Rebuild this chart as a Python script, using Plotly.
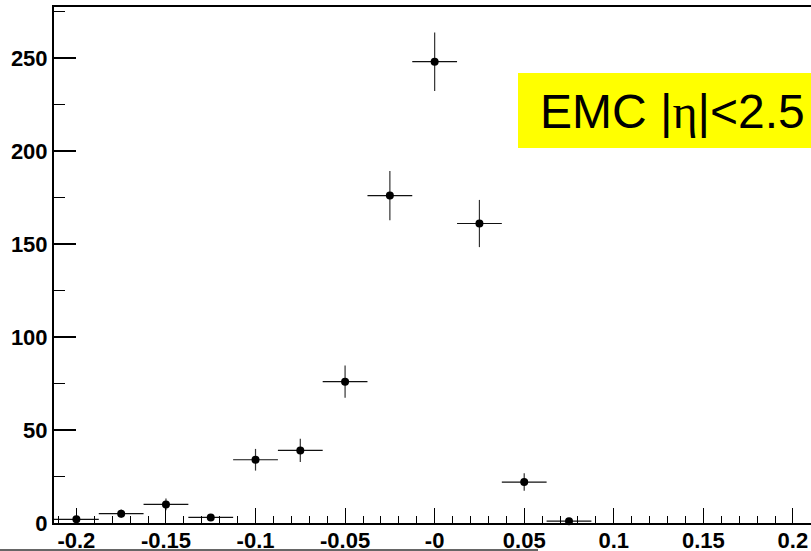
import plotly.graph_objects as go

# Data
bin_centers = [-0.2, -0.175, -0.15, -0.125, -0.1, -0.075, -0.05, -0.025, 0.0, 0.025, 0.05, 0.075]
counts = [2, 5, 10, 3, 34, 39, 76, 176, 248, 161, 22, 1]
bin_half_width = 0.0125
x_tick_vals = [-0.2, -0.15, -0.1, -0.05, 0.0, 0.05, 0.1, 0.15, 0.2]
x_tick_text = ["-0.2", "-0.15", "-0.1", "-0.05", "-0", "0.05", "0.1", "0.15", "0.2"]
y_tick_vals = [0, 50, 100, 150, 200, 250]
label_text = "EMC |<span style='font-family:Liberation Serif'>η</span>|<2.5"

errors = [c ** 0.5 for c in counts]

W, H = 811, 551
ML, MR, MT, MB = 54, 0, 7, 28

fig = go.Figure()
fig.add_trace(go.Scatter(
    x=bin_centers, y=counts, mode="markers",
    marker=dict(color="black", size=8),
    error_y=dict(type="data", array=errors, color="#333", thickness=1.2, width=0),
    error_x=dict(type="constant", value=bin_half_width, color="#111", thickness=1.2, width=0),
    showlegend=False, cliponaxis=False,
))

pw = W - ML - MR
ph = H - MT - MB

def px(xp):
    return (xp - ML) / pw

def py(yp):
    return (H - MB - yp) / ph

tickfont = dict(family="Liberation Sans", size=22, color="black", weight="bold")

fig.update_layout(
    width=W, height=H,
    margin=dict(l=ML, r=MR, t=MT, b=MB, pad=0, autoexpand=False),
    paper_bgcolor="white", plot_bgcolor="white",
    xaxis=dict(
        range=[-0.2125, 0.2101], showgrid=False, zeroline=False, automargin=False,
        showline=True, linecolor="black", linewidth=2, mirror=True,
        tickmode="array", tickvals=x_tick_vals, ticktext=x_tick_text,
        ticks="inside", ticklen=15, tickwidth=1, tickcolor="black",
        minor=dict(ticks="inside", ticklen=7, dtick=0.01, tick0=0, tickcolor="black", tickwidth=1),
        tickfont=tickfont, ticklabelstandoff=-3,
    ),
    yaxis=dict(
        range=[0, 277.4], showgrid=False, zeroline=False, automargin=False,
        showline=True, linecolor="black", linewidth=2, mirror=False,
        tickmode="array", tickvals=y_tick_vals,
        ticks="inside", ticklen=22, tickwidth=1.5, tickcolor="black",
        minor=dict(ticks="inside", ticklen=11, dtick=25, tick0=0, tickcolor="black", tickwidth=1),
        tickfont=tickfont,
    ),
    shapes=[
        dict(type="rect", xref="paper", yref="paper",
             x0=px(518), x1=px(830), y0=py(148), y1=py(73),
             fillcolor="#ffff00", line=dict(width=0), layer="above"),
        dict(type="line", xref="paper", yref="paper",
             x0=px(0), x1=px(538), y0=py(550), y1=py(550),
             line=dict(color="#333", width=1.5)),
    ],
    annotations=[
        dict(text=label_text, xref="paper", yref="paper",
             x=px(538), y=py(111), xanchor="left", yanchor="middle",
             showarrow=False, font=dict(family="Liberation Sans", size=48, color="black")),
    ],
)

fig.write_html(
    "out.html",
    config={"displayModeBar": False},
    post_script="document.body.style.margin='0';document.body.style.overflow='hidden';",
)
